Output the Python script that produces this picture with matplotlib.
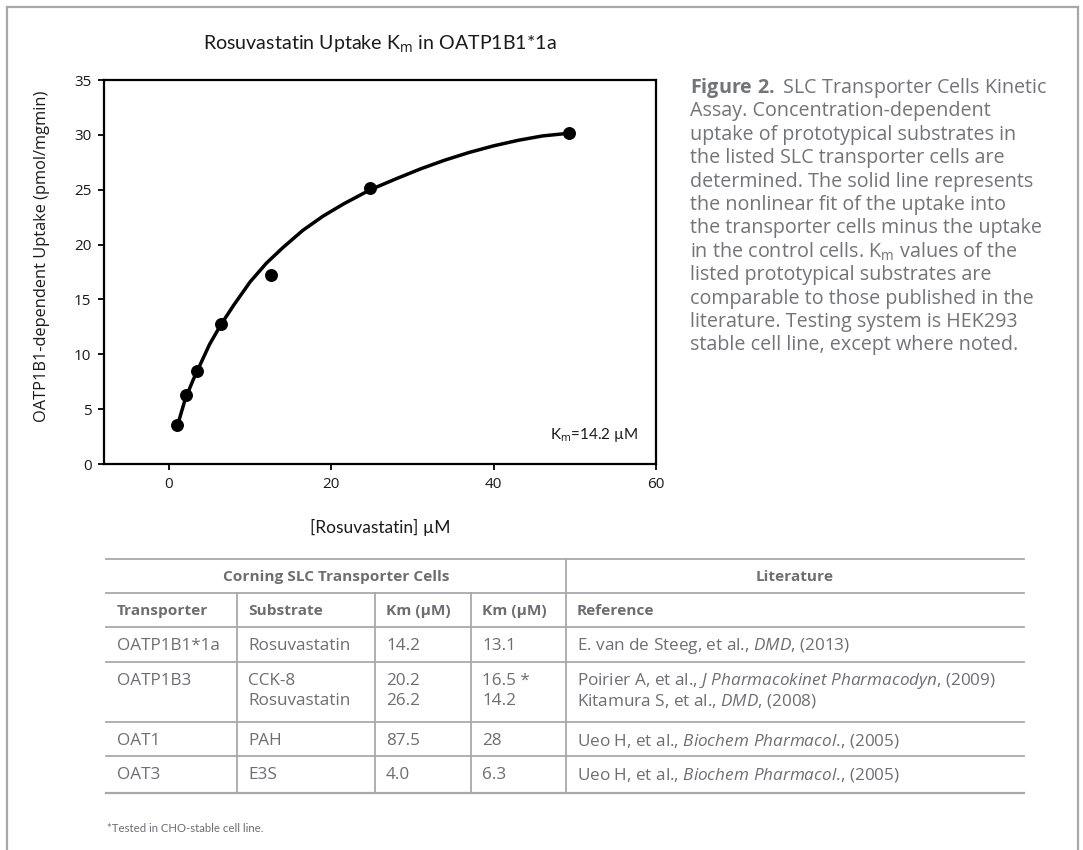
import matplotlib
matplotlib.use('Agg')
import matplotlib.pyplot as plt
from matplotlib.lines import Line2D

W, H = 1083, 850
plt.rcParams['mathtext.fontset'] = 'custom'
plt.rcParams['mathtext.rm'] = 'Open Sans'
plt.rcParams['mathtext.it'] = 'Open Sans:italic'
plt.rcParams['mathtext.bf'] = 'Open Sans:bold'

# ---------------- data ----------------
conc = [1.05, 2.05, 3.5, 6.4, 12.6, 24.8, 49.3]
uptake = [3.55, 6.28, 8.44, 12.75, 17.24, 25.17, 30.15]
fit_x = [1.05, 2.0, 3.0, 4.0, 5.0, 6.4, 8.0, 10.0, 12.0, 14.0, 16.5, 19.0, 21.5,
         24.8, 28.0, 31.0, 34.0, 37.0, 40.0, 43.0, 46.0, 49.3]
fit_y = [3.5, 5.9, 7.7, 9.3, 10.9, 12.7, 14.5, 16.6, 18.3, 19.7, 21.3, 22.6, 23.7,
         25.0, 26.0, 26.9, 27.7, 28.4, 29.0, 29.5, 29.9, 30.15]
xticks = [0, 20, 40, 60]
yticks = [0, 5, 10, 15, 20, 25, 30, 35]
km_label = r'K$_{\mathrm{m}}$=14.2 µM'

caption_lines = [
    r'$\mathbf{Figure\ 2.}$ SLC Transporter Cells Kinetic',
    'Assay. Concentration-dependent',
    'uptake of prototypical substrates in',
    'the listed SLC transporter cells are',
    'determined. The solid line represents',
    'the nonlinear fit of the uptake into',
    'the transporter cells minus the uptake',
    r'in the control cells. K$_{\mathrm{m}}$ values of the',
    'listed prototypical substrates are',
    'comparable to those published in the',
    'literature. Testing system is HEK293',
    'stable cell line, except where noted.',
]

group_headers = ['Corning SLC Transporter Cells', 'Literature']
col_headers = ['Transporter', 'Substrate', 'Km (µM)', 'Km (µM)', 'Reference']
transporters = ['OATP1B1*1a', 'OATP1B3', 'OAT1', 'OAT3']
substrates = [['Rosuvastatin'], ['CCK-8', 'Rosuvastatin'], ['PAH'], ['E3S']]
km_corning = [['14.2'], ['20.2', '26.2'], ['87.5'], ['4.0']]
km_lit = [['13.1'], ['16.5 *', '14.2'], ['28'], ['6.3']]
references = [
    [r'E. van de Steeg, et al., $\mathit{DMD}$, (2013)'],
    [r'Poirier A, et al., $\mathit{J\ Pharmacokinet\ Pharmacodyn}$, (2009)',
     r'Kitamura S, et al., $\mathit{DMD}$, (2008)'],
    [r'Ueo H, et al., $\mathit{Biochem\ Pharmacol.}\!$, (2005)'],
    [r'Ueo H, et al., $\mathit{Biochem\ Pharmacol.}\!$, (2005)'],
]
footnote = '*Tested in CHO-stable cell line.'

# ---------------- figure ----------------
fig = plt.figure(figsize=(W / 100, H / 100), dpi=100)

def fx(x):
    return x / W

def fy(y):
    return 1 - y / H

GRAY = '#6d6e71'
LINE = '#a7a9ac'
TXT = '#1a1a1a'

# page frame
fig.add_artist(Line2D([fx(7), fx(7)], [fy(7), fy(850)], color='#a8a8a8', lw=1.6))
fig.add_artist(Line2D([fx(1078), fx(1078)], [fy(7), fy(850)], color='#a8a8a8', lw=1.6))
fig.add_artist(Line2D([fx(7), fx(1078)], [fy(7), fy(7)], color='#a8a8a8', lw=1.6))

# chart
left, right, top, bottom = 104, 656, 80, 464
ax = fig.add_axes([fx(left), fy(bottom), (right - left) / W, (bottom - top) / H])
ax.plot(fit_x, fit_y, color='black', lw=2.5, solid_capstyle='round',
        solid_joinstyle='round', zorder=2)
ax.plot(conc, uptake, 'o', color='black', ms=8.3, zorder=3)
ax.set_xlim(-8, 60)
ax.set_ylim(0, 35)
ax.set_xticks(xticks)
ax.set_yticks(yticks)
for s in ax.spines.values():
    s.set_linewidth(1.6)
ax.tick_params(direction='out', length=4, width=1.3, labelsize=11, pad=5,
               labelcolor=TXT)
for lab in ax.get_xticklabels() + ax.get_yticklabels():
    lab.set_fontfamily('Open Sans')
ax.set_xlabel('[Rosuvastatin] µM', fontsize=12.5, family='Lato', labelpad=20,
              color=TXT)
ax.set_ylabel('OATP1B1-dependent Uptake (pmol/mgmin)', fontsize=11.8,
              family='Open Sans', color=TXT)
ax.yaxis.set_label_coords(-0.098, 0.542)
ax.set_title(r'Rosuvastatin Uptake K$_{\mathrm{m}}$ in OATP1B1*1a', fontsize=14.1,
             family='Lato', pad=22, color=TXT)
ax.text(0.967, 0.075, km_label, transform=ax.transAxes, ha='right', va='center',
        fontsize=11, family='Lato', color=TXT)

# caption
for i, line in enumerate(caption_lines):
    fig.text(fx(690), fy(88 + i * 23.4), line, fontsize=14.2, family='Open Sans',
             color='#737477', ha='left', va='center')

# table
tx0, tx1 = 106, 1024
hlines = [559, 593, 627, 662, 722, 756, 793]
for k, y in enumerate(hlines):
    fig.add_artist(Line2D([fx(tx0), fx(tx1)], [fy(y), fy(y)], color=LINE,
                          lw=1.3 if k < len(hlines) - 1 else 1.6))
fig.add_artist(Line2D([fx(566), fx(566)], [fy(559), fy(793)], color=LINE, lw=1.3))
for x in [237, 375, 471]:
    fig.add_artist(Line2D([fx(x), fx(x)], [fy(593), fy(793)], color=LINE, lw=1.3))

TS = 12.3
HS = 11.1
fig.text(fx((106 + 566) / 2), fy(577), group_headers[0], ha='center', va='center',
         fontsize=HS, weight='bold', family='Open Sans', color=GRAY)
fig.text(fx((566 + 1024) / 2), fy(577), group_headers[1], ha='center', va='center',
         fontsize=HS, weight='bold', family='Open Sans', color=GRAY)
col_x = [117, 248, 386, 482, 577]
for x, h in zip(col_x, col_headers):
    fig.text(fx(x), fy(611), h, ha='left', va='center', fontsize=HS,
             weight='bold', family='Open Sans', color=GRAY)

row_top = [627, 662, 722, 756]
line_h = 20
for r in range(len(transporters)):
    y0 = row_top[r] + 19
    fig.text(fx(col_x[0]), fy(y0), transporters[r], ha='left', va='center',
             fontsize=TS, family='Open Sans', color=GRAY)
    cols = [substrates[r], km_corning[r], km_lit[r], references[r]]
    for c, vals in enumerate(cols):
        for j, v in enumerate(vals):
            fig.text(fx(col_x[c + 1]), fy(y0 + j * line_h), v, ha='left', va='center',
                     fontsize=TS, family='Open Sans', color=GRAY)

fig.text(fx(107), fy(828), footnote, ha='left', va='center', fontsize=8.2,
         family='Lato', color=GRAY)

fig.savefig('out.png', dpi=100)
